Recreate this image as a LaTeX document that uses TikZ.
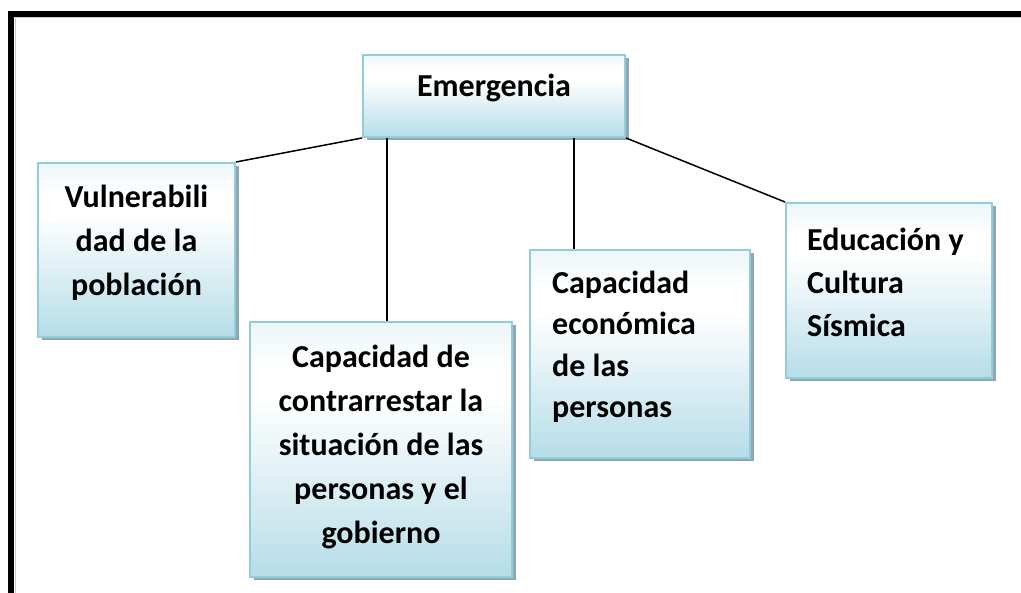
\documentclass[tikz,border=0pt]{standalone}
\usepackage{fontspec}
\setmainfont{Carlito}
\usetikzlibrary{shadows}
\definecolor{boxborder}{HTML}{93CDDD}
\definecolor{boxbottom}{HTML}{B6DDE8}
\definecolor{boxtop}{HTML}{ECF6F9}
\definecolor{boxshadow}{HTML}{8EA7B2}
\pgfdeclareverticalshading{boxshade}{100bp}{color(0bp)=(boxbottom); color(25bp)=(boxbottom); color(60bp)=(white); color(66bp)=(white); color(75bp)=(boxtop); color(100bp)=(boxtop)}
\begin{document}
\begin{tikzpicture}[x=1pt,y=-1pt,
  box/.style={draw=boxborder, line width=2pt, rectangle, inner sep=0pt,
    shading=boxshade,
    drop shadow={shadow xshift=3.5pt, shadow yshift=-3.5pt, fill=boxshadow, opacity=1}},
  txt/.style={inner sep=0pt, font=\fontsize{32}{44}\selectfont\bfseries},
  conn/.style={draw=black, line width=1.5pt}]
\useasboundingbox (0,0) rectangle (1021,593);
% frame
\draw[line width=1pt, black!20] (15.5,593) -- (15.5,17.5) -- (1021,17.5);
\draw[line width=6pt] (11,593) -- (11,14) -- (1021,14);
% coordinates for vertical connectors
\coordinate (xa) at (387,0);
\coordinate (xb) at (574,0);
% boxes
\node[box, minimum width=262pt, minimum height=82pt] (em) at (494,96) {};
\node[box, minimum width=197pt, minimum height=174pt] (vul) at (136.5,250) {};
\node[box, minimum width=262pt, minimum height=255pt] (cap) at (381,449.5) {};
\node[box, minimum width=220pt, minimum height=208pt] (eco) at (640,354) {};
\node[box, minimum width=206pt, minimum height=175pt] (edu) at (889,290.5) {};
% connectors
\draw[conn] (em.south west) -- (vul.north east);
\draw[conn] (em.south -| xa) -- (xa |- cap.north);
\draw[conn] (em.south -| xb) -- (xb |- eco.north);
\draw[conn] (em.south east) -- (edu.north west);
% texts
\node[txt, anchor=base] (emT) at (494,96.5) {Emergencia};
\node[txt, align=center] (vulT) at (136.5,243) {Vulnerabili\\dad de la\\población};
\node[txt, align=center] (capT) at (381,447) {Capacidad de\\contrarrestar la\\situación de las\\personas y el\\gobierno};
\node[txt, align=left, anchor=west, font=\fontsize{32}{41.5}\selectfont\bfseries] (ecoT) at (552,347) {Capacidad\\económica\\de las\\personas};
\node[txt, align=left, anchor=west, font=\fontsize{32}{43}\selectfont\bfseries] (eduT) at (807,282) {Educación y\\Cultura\\Sísmica};
\end{tikzpicture}
\end{document}
